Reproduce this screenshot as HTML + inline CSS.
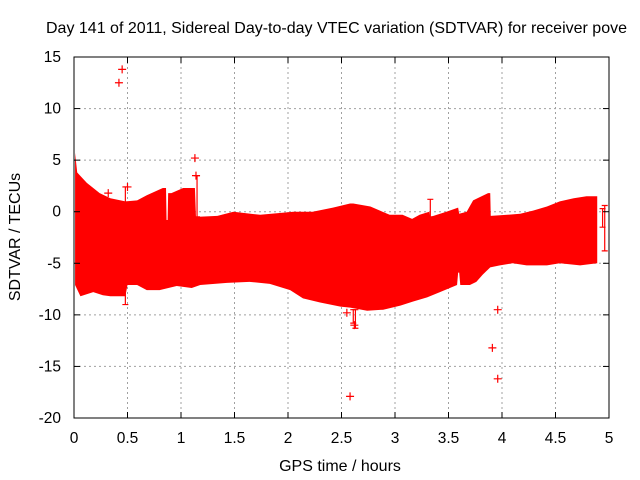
<!DOCTYPE html>
<html><head><meta charset="utf-8"><style>
body{margin:0;background:#fff;width:640px;height:480px;overflow:hidden}
svg{display:block;font-family:"Liberation Sans",sans-serif}
</style></head><body>
<svg id="chart" width="640" height="480">
<text x="46" y="33" font-size="16">Day 141 of 2011, Sidereal Day-to-day VTEC variation (SDTVAR) for receiver pove</text>
<text transform="translate(20,237) rotate(-90)" text-anchor="middle" font-size="16">SDTVAR / TECUs</text>
<text x="340" y="471" text-anchor="middle" font-size="16">GPS time / hours</text>
<g id="grid"></g><g id="band"></g><g id="marks"></g><g id="axes"></g>
</svg>
<script>
const xTicks=[0,0.5,1,1.5,2,2.5,3,3.5,4,4.5,5];
const xTickLabels=["0","0.5","1","1.5","2","2.5","3","3.5","4","4.5","5"];
const yTicks=[15,10,5,0,-5,-10,-15,-20];
const yTickLabels=["15","10","5","0","-5","-10","-15","-20"];
const upperT=[0.01,0.03,0.12,0.24,0.34,0.48,0.59,0.68,0.83,0.86,0.865,0.875,0.88,0.91,1.02,1.13,1.14,1.34,1.49,1.74,2.05,2.23,2.42,2.58,2.61,2.77,2.95,3.07,3.16,3.23,3.32,3.33,3.48,3.59,3.60,3.67,3.73,3.79,3.87,3.89,3.895,4.05,4.17,4.29,4.42,4.54,4.67,4.79,4.89];
const upperV=[5.7,3.8,2.8,1.8,1.3,1.0,1.1,1.6,2.3,2.3,-0.8,-0.8,1.8,1.8,2.3,2.3,-0.5,-0.4,0,-0.3,0,0,0.4,0.8,0.8,0.5,-0.3,-0.3,-0.7,-0.3,0,-0.5,0,0.4,-0.2,0,1.1,1.4,1.8,1.8,-0.4,-0.3,-0.2,0.1,0.5,1.0,1.3,1.5,1.5];
const lowerT=[0.01,0.06,0.18,0.27,0.34,0.48,0.5,0.59,0.68,0.80,0.96,1.10,1.18,1.43,1.64,1.83,2.02,2.14,2.30,2.49,2.58,2.74,2.89,3.05,3.17,3.30,3.42,3.58,3.59,3.60,3.61,3.70,3.76,3.82,3.89,3.98,4.10,4.23,4.42,4.54,4.73,4.89];
const lowerV=[-7.1,-8.2,-7.8,-8.1,-8.2,-8.2,-7.1,-7.1,-7.6,-7.6,-7.2,-7.4,-7.1,-6.9,-6.8,-7.0,-7.6,-8.4,-8.8,-9.2,-9.3,-9.6,-9.5,-9.1,-8.7,-8.3,-7.8,-7.1,-5.9,-5.9,-7.1,-7.1,-6.8,-6.1,-5.4,-5.2,-5.0,-5.2,-5.2,-5.0,-5.2,-5.0];
const outT=[0.42,0.45,1.13,1.14,0.5,0.32,2.58,3.96,3.91,3.96,2.55,2.62];
const outV=[12.5,13.8,5.2,3.5,2.4,1.8,-17.9,-9.5,-13.2,-16.2,-9.8,-11.0];
const barT=[2.63,2.61,4.96,4.94,0.48,1.15,3.33];
const barLo=[-11.3,-10.8,-3.8,-1.5,-9.0,-0.5,-0.5];
const barHi=[-9.5,-9.5,0.6,0.3,2.4,3.5,1.2];

const X0=74,X1=609,Y0=57,Y1=418;
const xs=t=>X0+(t-0)/5*(X1-X0);
const ys=v=>Y0+(15-v)/35*(Y1-Y0);
const NS="http://www.w3.org/2000/svg";
function mk(tag,parent,attrs){const e=document.createElementNS(NS,tag);for(const k in attrs)e.setAttribute(k,attrs[k]);document.getElementById(parent).appendChild(e);return e;}

xTicks.forEach((t,i)=>{
  if(i>0&&i<xTicks.length-1){const g=mk('line','grid',{x1:xs(t),x2:xs(t),y1:Y0,y2:Y1,stroke:'#a0a0a0','stroke-dasharray':'2,3'});
  
  }
  const tk=mk('line','axes',{x1:xs(t),x2:xs(t),y1:Y1,y2:Y1-6,stroke:'#000'});
  
  
  const tk2=mk('line','axes',{x1:xs(t),x2:xs(t),y1:Y0,y2:Y0+6,stroke:'#000'});
  
  
  const l=mk('text','axes',{x:xs(t),y:Y1+25,'text-anchor':'middle','font-size':15.5});
  l.textContent=xTickLabels[i];
  
  
});
yTicks.forEach((v,i)=>{
  if(i>0&&i<yTicks.length-1){const g=mk('line','grid',{x1:X0,x2:X1,y1:ys(v),y2:ys(v),stroke:'#a0a0a0','stroke-dasharray':'2,3'});
  
  }
  const tk=mk('line','axes',{x1:X0,x2:X0+6,y1:ys(v),y2:ys(v),stroke:'#000'});
  
  
  const tk2=mk('line','axes',{x1:X1,x2:X1-6,y1:ys(v),y2:ys(v),stroke:'#000'});
  
  
  const l=mk('text','axes',{x:X0-13,y:ys(v)+5,'text-anchor':'end','font-size':15.5});
  l.textContent=yTickLabels[i];
  
  
});
const fr=mk('rect','axes',{x:X0,y:Y0,width:X1-X0,height:Y1-Y0,fill:'none',stroke:'#000'});



let pts=[];
upperT.forEach((t,i)=>{pts.push(xs(t)+','+ys(upperV[i]));});
for(let i=lowerT.length-1;i>=0;i--){pts.push(xs(lowerT[i])+','+ys(lowerV[i]));}
const band=mk('polygon','band',{points:pts.join(' '),fill:'#ff0000'});



barT.forEach((t,i)=>{
  const x=xs(t);
  const b=mk('path','marks',{d:`M${x},${ys(barLo[i])}V${ys(barHi[i])}M${x-3},${ys(barLo[i])}h6M${x-3},${ys(barHi[i])}h6`,stroke:'#f00','stroke-width':1.2,fill:'none'});
  
  
});
outT.forEach((t,i)=>{
  const x=xs(t),y=ys(outV[i]);
  const p=mk('path','marks',{d:`M${x-4},${y}h8M${x},${y-4}v8`,stroke:'#f00','stroke-width':1.2});
  
  
});
</script>
</body></html>
